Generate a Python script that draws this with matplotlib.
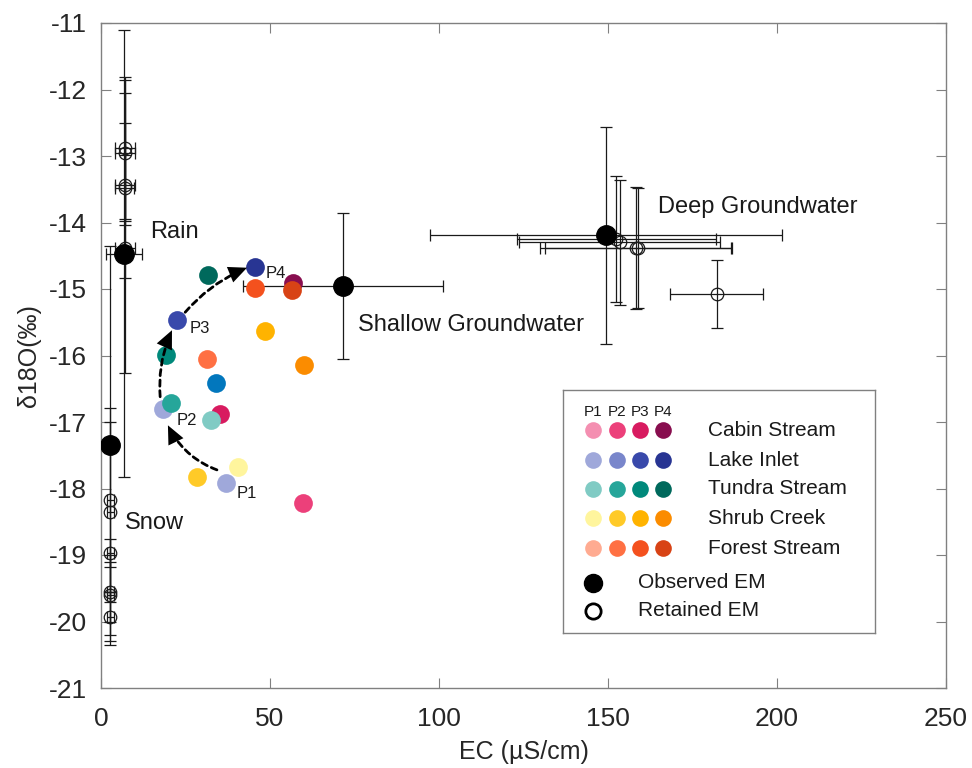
import matplotlib
matplotlib.use("Agg")
import matplotlib.pyplot as plt
from matplotlib.patches import FancyArrowPatch

plt.rcParams['font.family'] = ['Liberation Sans', 'DejaVu Sans']
plt.rcParams['axes.unicode_minus'] = False

# ---------------- data ----------------
sites = ["Cabin Stream", "Lake Inlet", "Tundra Stream", "Shrub Creek", "Forest Stream"]
periods = ["P1", "P2", "P3", "P4"]
site_colors = {
    "Cabin Stream":  ["#F48FB1", "#EC407A", "#D81B60", "#880E4F"],
    "Lake Inlet":    ["#9FA8DA", "#7986CB", "#3949AB", "#283593"],
    "Tundra Stream": ["#80CBC4", "#26A69A", "#00897B", "#00695C"],
    "Shrub Creek":   ["#FFF59D", "#FFCA28", "#FFB300", "#FB8C00"],
    "Forest Stream": ["#FFAB91", "#FF7043", "#F4511E", "#D84315"],
}
# stream samples: (period index, EC, d18O)
lake_pts   = [(0, 37.0, -17.92), (0, 18.4, -16.80), (2, 22.5, -15.47), (3, 45.6, -14.67)]
cabin_pts  = [(1, 59.8, -18.22), (2, 35.2, -16.88), (3, 56.8, -14.91)]
tundra_pts = [(0, 32.5, -16.97), (1, 20.7, -16.71), (2, 19.2, -15.99), (3, 31.7, -14.79)]
shrub_pts  = [(0, 40.5, -17.68), (1, 28.4, -17.83), (2, 48.5, -15.63), (3, 60.1, -16.14)]
forest_pts = [(1, 31.4, -16.05), (2, 45.6, -14.98), (3, 56.5, -15.01)]
extra_ec, extra_d18o, extra_color = [34.0], [-16.41], "#0277BD"

# observed end-members
obs_names = ["Rain", "Snow", "Shallow Groundwater", "Deep Groundwater"]
obs_ec    = [6.8, 2.7, 71.6, 149.4]
obs_d18o  = [-14.47, -17.35, -14.95, -14.19]
obs_ecerr = [5.2, 0.6, 29.5, 52.0]
obs_derr  = [3.36, 3.0, 1.1, 1.63]

# retained end-members
ret_ec    = [7.0, 7.0, 7.0, 7.0, 7.0,
             2.7, 2.7, 2.7, 2.7, 2.7, 2.7,
             152.5, 153.5, 158.2, 158.8, 182.2]
ret_d18o  = [-12.88, -12.95, -13.44, -13.48, -14.38,
             -18.17, -18.35, -18.97, -19.56, -19.60, -19.93,
             -14.25, -14.30, -14.38, -14.38, -15.07]
ret_ecerr = [3.0, 3.0, 3.0, 2.8, 3.0,
             1.0, 1.0, 1.0, 1.0, 1.0, 1.0,
             29.5, 29.7, 28.4, 27.5, 13.8]
ret_derr  = [1.07, 1.09, 1.39, 0.5, 1.88,
             1.38, 1.35, 0.21, 0.45, 0.60, 0.37,
             0.95, 0.94, 0.92, 0.90, 0.51]

# trajectory arrows (start EC, start d18O, end EC, end d18O, curvature)
arrows = [(34.3, -17.72, 19.8, -17.05, -0.2),
          (17.5, -16.62, 21.0, -15.62, -0.13),
          (24.9, -15.35, 43.2, -14.68, -0.12)]
plabels = [("P1", 40.2, -18.07), ("P2", 22.5, -16.97), ("P3", 26.3, -15.60), ("P4", 48.8, -14.76)]
em_labels = [("Rain", 14.5, -14.15), ("Snow", 7.1, -18.52),
             ("Shallow Groundwater", 76.0, -15.54), ("Deep Groundwater", 164.8, -13.77)]

xticks = [0, 50, 100, 150, 200, 250]
yticks = list(range(-21, -10))

# ---------------- figure ----------------
fig = plt.figure(figsize=(9.72, 7.68), dpi=100)
ax = fig.add_axes([101/972, 1-688/768, 845/972, 665/768])

ebkw = dict(fmt='none', ecolor='#1a1a1a', elinewidth=0.9, capsize=4, capthick=0.9, zorder=2)

# retained EMs
ax.errorbar(ret_ec, ret_d18o, xerr=ret_ecerr, yerr=ret_derr, **ebkw)
ax.plot(ret_ec, ret_d18o, linestyle='none', marker='o', ms=9, mfc='none',
        mec='#1a1a1a', mew=0.9, zorder=3)
# observed EMs
ax.errorbar(obs_ec, obs_d18o, xerr=obs_ecerr, yerr=obs_derr, **ebkw)
ax.plot(obs_ec, obs_d18o, linestyle='none', marker='o', ms=14, mfc='black',
        mec='black', zorder=4)

# stream samples
for name, pts in [("Lake Inlet", lake_pts), ("Cabin Stream", cabin_pts),
                  ("Tundra Stream", tundra_pts), ("Shrub Creek", shrub_pts),
                  ("Forest Stream", forest_pts)]:
    for (pi, x, y) in pts:
        ax.plot([x], [y], linestyle='none', marker='o', ms=13.5,
                mfc=site_colors[name][pi], mec='none', zorder=5)
ax.plot(extra_ec, extra_d18o, linestyle='none', marker='o', ms=13.5,
        mfc=extra_color, mec='none', zorder=5)

for (x0, y0, x1, y1, rad) in arrows:
    # dashed shaft
    shaft = FancyArrowPatch((x0, y0), (x1, y1), arrowstyle='-', mutation_scale=24,
                            connectionstyle=f'arc3,rad={rad}', linestyle=(0, (2.2, 1.6)),
                            linewidth=2.0, color='black', shrinkA=0, shrinkB=6, zorder=6)
    ax.add_patch(shaft)
    # solid head
    head = FancyArrowPatch((x0, y0), (x1, y1),
                           arrowstyle='-|>,head_length=0.55,head_width=0.25', mutation_scale=24,
                           connectionstyle=f'arc3,rad={rad}', linestyle='-',
                           linewidth=0.0, color='black', shrinkA=0, shrinkB=0, zorder=6)
    head.set_path_effects([])
    ax.add_patch(head)

for (t, x, y) in plabels:
    ax.text(x, y, t, fontsize=12, ha='left', va='center', color='#1a1a1a', zorder=7)
for (t, x, y) in em_labels:
    ax.text(x, y, t, fontsize=17, ha='left', va='center', color='#1a1a1a', zorder=7)

ax.set_xlim(0, 250)
ax.set_ylim(-21, -11)
ax.set_xticks(xticks)
ax.set_yticks(yticks)
ax.tick_params(direction='in', length=7, width=0.8, colors='#808080',
               labelcolor='#262626', labelsize=19, top=True, right=True)
ax.tick_params(axis='x', pad=14)
ax.tick_params(axis='y', pad=10)
for s in ax.spines.values():
    s.set_color('#808080')
    s.set_linewidth(1.0)
ax.set_xlabel("EC (µS/cm)", fontsize=18, color='#262626', labelpad=6)
ax.set_ylabel("δ18O(‰)", fontsize=18, color='#262626', labelpad=6)

# ---------------- legend ----------------
lg = fig.add_axes([563/972, 1-633/768, 312/972, 243/768])
lg.set_xlim(0, 312)
lg.set_ylim(243, 0)
lg.set_xticks([])
lg.set_yticks([])
for s in lg.spines.values():
    s.set_color('#808080')
    s.set_linewidth(1.0)
colx = [30, 54, 77, 100]
rowy = [40, 70, 99, 128, 158]
for j, p in enumerate(periods):
    lg.text(colx[j], 22, p, fontsize=11, ha='center', va='center', color='#1a1a1a')
for i, name in enumerate(sites):
    for j in range(4):
        lg.plot([colx[j]], [rowy[i]], marker='o', ms=12, mfc=site_colors[name][j],
                mec='none', linestyle='none')
    lg.text(145, rowy[i], name, fontsize=15, ha='left', va='center', color='#1a1a1a')
lg.plot([colx[0]], [193], marker='o', ms=13, mfc='black', mec='black', linestyle='none')
lg.text(75, 193, "Observed EM", fontsize=15, ha='left', va='center', color='#1a1a1a')
lg.plot([colx[0]], [221], marker='o', ms=11, mfc='none', mec='black', mew=2.0, linestyle='none')
lg.text(75, 221, "Retained EM", fontsize=15, ha='left', va='center', color='#1a1a1a')

fig.savefig("out.png", dpi=100)
